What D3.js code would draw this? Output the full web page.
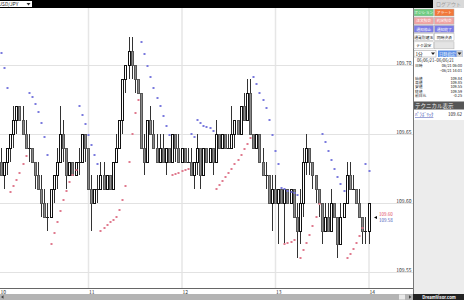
<!DOCTYPE html>
<html lang="ja">
<head>
<meta charset="UTF-8">
<title>USD/JPY 1分足 パラボリック</title>
<script src="https://d3js.org/d3.v7.min.js"></script>
<style>
  html, body { margin: 0; padding: 0; background: #fff; }
  svg { display: block; font-family: "Noto Sans CJK JP", "DejaVu Sans", sans-serif; }
  .tick text { font-size: 5px; fill: #333; font-family: "Noto Sans CJK JP", sans-serif; }
</style>
</head>
<body>
<svg id="chart" width="464" height="300"></svg>
<script>
// minutes after 10:00 for each bar
const minutes = [4,6,8,10,12,14,16,18,20,22,24,26,28,30,32,34,36,38,40,42,44,46,48,50,52,54,56,58,60,62,
  64,66,68,70,72,74,76,78,80,82,84,86,88,90,92,94,96,98,100,102,104,106,108,110,112,114,116,118,120,122,
  124,126,128,130,132,134,136,138,140,142,144,146,148,150,152,154,156,158,160,162,164,166,168,170,172,174,176,178,180,182,
  184,186,188,190,192,194,196,198,200,202,204,206,208,210,212,214,216,218,220,222,224,226,228,230,232,234,236,238,240];

const open = [109.63,109.62,109.63,109.64,109.65,109.66,109.67,109.66,109.65,109.64,
  109.64,109.63,109.62,109.61,109.60,109.59,109.59,109.61,109.62,109.63,
  109.65,109.64,109.62,109.63,109.62,109.63,109.63,109.65,109.64,109.61,
  109.60,109.61,109.61,109.62,109.61,109.62,109.61,109.63,109.64,109.66,
  109.69,109.70,109.71,109.70,109.69,109.68,109.64,109.63,109.66,109.65,
  109.64,109.63,109.64,109.63,109.64,109.63,109.65,109.64,109.63,109.64,
  109.63,109.63,109.62,109.63,109.64,109.62,109.64,109.63,109.64,109.63,
  109.65,109.64,109.65,109.64,109.64,109.65,109.66,109.65,109.67,109.66,
  109.68,109.65,109.64,109.65,109.63,109.62,109.62,109.60,109.61,109.60,
  109.61,109.60,109.61,109.60,109.61,109.59,109.58,109.60,109.63,109.64,
  109.63,109.62,109.61,109.60,109.58,109.59,109.58,109.60,109.59,109.57,
  109.59,109.60,109.62,109.61,109.61,109.60,109.59,109.58,109.58];

const high = [109.64,109.63,109.64,109.65,109.67,109.67,109.67,109.67,109.66,109.65,
  109.64,109.63,109.63,109.62,109.61,109.60,109.61,109.62,109.64,109.67,
  109.66,109.64,109.63,109.63,109.63,109.64,109.65,109.65,109.64,109.62,
  109.61,109.62,109.63,109.63,109.62,109.62,109.63,109.65,109.66,109.69,
  109.70,109.72,109.72,109.70,109.69,109.68,109.65,109.66,109.67,109.66,
  109.65,109.65,109.65,109.64,109.64,109.65,109.65,109.65,109.64,109.64,
  109.64,109.64,109.63,109.65,109.64,109.64,109.64,109.64,109.64,109.66,
  109.65,109.65,109.65,109.65,109.67,109.66,109.66,109.67,109.68,109.69,
  109.69,109.65,109.65,109.65,109.64,109.63,109.62,109.62,109.62,109.61,
  109.61,109.61,109.61,109.61,109.61,109.60,109.61,109.64,109.65,109.64,
  109.63,109.62,109.61,109.60,109.60,109.60,109.61,109.60,109.59,109.60,
  109.60,109.63,109.63,109.62,109.61,109.61,109.59,109.59,109.60];

const low = [109.62,109.61,109.62,109.63,109.64,109.65,109.66,109.65,109.64,109.63,
  109.63,109.61,109.61,109.59,109.59,109.58,109.59,109.60,109.61,109.63,
  109.63,109.61,109.62,109.62,109.62,109.62,109.63,109.63,109.61,109.58,
  109.60,109.60,109.61,109.61,109.61,109.61,109.61,109.63,109.64,109.65,
  109.68,109.69,109.69,109.68,109.68,109.64,109.62,109.63,109.65,109.64,
  109.63,109.63,109.63,109.62,109.63,109.63,109.63,109.63,109.63,109.63,
  109.63,109.62,109.61,109.62,109.61,109.62,109.63,109.63,109.62,109.63,
  109.64,109.64,109.64,109.64,109.64,109.64,109.65,109.65,109.66,109.66,
  109.65,109.64,109.64,109.63,109.62,109.61,109.60,109.58,109.60,109.57,
  109.60,109.57,109.60,109.60,109.59,109.56,109.57,109.59,109.62,109.62,
  109.61,109.60,109.59,109.57,109.58,109.58,109.58,109.59,109.56,109.57,
  109.59,109.60,109.61,109.61,109.60,109.59,109.57,109.57,109.57];

const close = [109.62,109.63,109.64,109.65,109.66,109.67,109.66,109.65,109.64,109.64,
  109.63,109.62,109.61,109.60,109.59,109.59,109.61,109.62,109.63,109.65,
  109.64,109.62,109.63,109.62,109.63,109.63,109.65,109.64,109.61,109.60,
  109.61,109.61,109.62,109.61,109.62,109.61,109.63,109.64,109.66,109.69,
  109.70,109.71,109.70,109.69,109.68,109.64,109.63,109.66,109.65,109.64,
  109.63,109.64,109.63,109.64,109.63,109.65,109.64,109.63,109.64,109.63,
  109.63,109.62,109.63,109.64,109.62,109.64,109.63,109.64,109.63,109.65,
  109.64,109.65,109.64,109.64,109.65,109.66,109.65,109.67,109.66,109.68,
  109.65,109.64,109.65,109.63,109.62,109.62,109.60,109.61,109.60,109.61,
  109.60,109.61,109.60,109.61,109.59,109.58,109.60,109.63,109.64,109.63,
  109.62,109.61,109.60,109.58,109.59,109.58,109.60,109.59,109.57,109.59,
  109.60,109.62,109.61,109.61,109.60,109.59,109.58,109.58,109.60];

// parabolic SAR dots: above price (blue) and below price (red)
const sarAbove = [109.709,109.698,109.683,null,null,null,null,null,null,
  109.680,109.677,109.672,109.666,109.658,109.648,109.635,
  null,null,null,null,null,null,null,null,null,
  109.670,109.664,109.657,109.649,109.642,109.635,109.628,
  null,null,null,null,null,null,null,null,null,null,null,null,null,
  109.717,109.708,109.699,109.691,109.683,109.676,109.670,109.663,109.656,109.649,
  null,null,null,null,null,null,
  109.650,109.648,109.660,109.658,109.656,109.655,109.654,109.652,
  null,null,null,null,null,null,null,null,null,null,null,null,
  109.691,109.686,109.680,109.675,109.669,109.660,109.649,109.638,109.628,109.611,109.610,109.609,109.608,109.607,109.606,
  null,null,null,null,null,null,null,
  109.650,109.644,109.638,109.631,109.625,109.619,109.614,109.609,
  null,null,null,null,null,null,
  109.628,109.623];

const sarBelow = [null,null,null,
  109.608,109.612,109.617,109.622,109.628,109.634,
  null,null,null,null,null,null,null,
  109.570,109.578,109.586,109.594,109.602,109.609,109.615,109.620,109.624,
  null,null,null,null,null,null,null,
  109.580,109.582,109.584,109.586,109.588,109.590,109.595,109.602,109.612,109.630,109.650,109.665,109.675,
  null,null,null,null,null,null,null,null,null,null,
  109.620,109.621,109.622,109.623,109.624,109.625,
  null,null,null,null,null,null,null,null,
  109.610,109.613,109.616,109.619,109.622,109.625,109.628,109.631,109.635,109.639,109.643,109.647,
  null,null,null,null,null,null,null,null,null,null,
  109.570,109.571,109.572,109.573,
  null,
  109.560,109.566,109.571,109.577,109.583,109.590,109.599,
  null,null,null,null,null,null,null,null,
  109.560,109.563,109.567,109.571,109.576,109.582,
  null,null];

const hourTicks = [0, 60, 120, 180, 240];
const hourLabels = ["10", "11", "12", "13", "14"];
const priceTicks = [109.55, 109.60, 109.65, 109.70];
const markerPrices = [109.60, 109.58];

const pairName = "USD/JPY";
const buttonLabels = [["ポジション", "アラート"], ["注文照会", "約定照会"], ["通知停止", "通知終了"], ["通貨別建玉", "同時決済"], ["テク設定", ""]];
const buttonFills = [["#6fcc82", "#f2773a"], ["#f0a3a3", "#f0a3a3"], ["#7b7be6", "#7b7be6"], ["#fff", "#fff"], ["#fff", "#e4e4e4"]];
const buttonInk = ["#fff", "#fff", "#fff", "#222", "#222"];
const periodLabel = "1分";
const rangeLabel = "日時指定";
const dateRange = "06/06/21~06/06/21";
const infoLabels = ["日時", "", "始値", "高値", "安値", "終値", "前日比"];
const infoValues = ["06/21 06:00", "~06/21 14:01", "109.84", "109.85", "109.55", "109.59", "-0.25"];
const techName = "ﾊﾟﾗﾎﾞﾘｯｸ";

const svg = d3.select("#chart");
const plotRight = 413, plotTop = 8, plotBottom = 288;

const x = d3.scaleLinear().domain([0, 240]).range([-5.5, 368.5]);
const y = d3.scaleLinear().domain([109.55, 109.70]).range([272, 65]);

svg.append("rect").attr("width", 464).attr("height", 300).attr("fill", "#fff");

// grid + axes
const gx = svg.append("g").attr("transform", `translate(0,${plotBottom})`)
  .call(d3.axisBottom(x).tickValues(hourTicks).tickSize(-(plotBottom - plotTop)).tickFormat((d, i) => hourLabels[i]));
gx.select(".domain").remove();
gx.selectAll(".tick line").attr("stroke", "#e6e6e6").attr("stroke-width", 1.5);
gx.selectAll(".tick text").attr("y", 5.5).attr("dy", 0).attr("text-anchor", "start")
  .attr("x", d => Math.max(0.5, -x(d)));

const gy = svg.append("g").attr("transform", `translate(${plotRight},0)`)
  .call(d3.axisLeft(y).tickValues(priceTicks).tickSize(plotRight).tickFormat(d3.format(".2f")));
gy.select(".domain").remove();
gy.selectAll(".tick line").attr("stroke", "#e2e2e2");
gy.selectAll(".tick text").attr("x", -1.5).attr("dy", -0.6);

svg.append("line").attr("x1", 0).attr("x2", plotRight).attr("y1", plotBottom + 0.5).attr("y2", plotBottom + 0.5)
  .attr("stroke", "#666");

// candles
const idx = d3.range(minutes.length);
const cx = i => Math.round(x(minutes[i]));
const gc = svg.append("g");
gc.selectAll("line.wick").data(idx).join("line").attr("class", "wick")
  .attr("x1", i => cx(i) + 0.5).attr("x2", i => cx(i) + 0.5)
  .attr("y1", i => Math.round(y(high[i]))).attr("y2", i => Math.round(y(low[i])))
  .attr("stroke", "#333");
gc.selectAll("rect.body").data(idx.filter(i => open[i] !== close[i])).join("rect").attr("class", "body")
  .attr("x", i => cx(i) - 0.5).attr("width", 2)
  .attr("y", i => Math.round(y(Math.max(open[i], close[i]))) + 0.5)
  .attr("height", i => Math.round(y(Math.min(open[i], close[i]))) - Math.round(y(Math.max(open[i], close[i]))))
  .attr("fill", i => close[i] > open[i] ? "#fff" : "#8a8a8a")
  .attr("stroke", i => close[i] > open[i] ? "#111" : "#555");
gc.selectAll("line.doji").data(idx.filter(i => open[i] === close[i])).join("line").attr("class", "doji")
  .attr("x1", i => cx(i) - 1).attr("x2", i => cx(i) + 2)
  .attr("y1", i => Math.round(y(open[i])) + 0.5).attr("y2", i => Math.round(y(open[i])) + 0.5)
  .attr("stroke", "#222");

// parabolic SAR
const gs = svg.append("g");
gs.selectAll("rect.up").data(idx.filter(i => sarAbove[i] != null)).join("rect").attr("class", "up")
  .attr("x", i => cx(i) - 0.5).attr("y", i => Math.round(y(sarAbove[i])) - 1)
  .attr("width", 2).attr("height", 2).attr("fill", "#7a7ade");
gs.selectAll("rect.dn").data(idx.filter(i => sarBelow[i] != null)).join("rect").attr("class", "dn")
  .attr("x", i => cx(i) - 0.5).attr("y", i => Math.round(y(sarBelow[i])) - 1)
  .attr("width", 2).attr("height", 2).attr("fill", "#e07a8e");

// current price markers
const last = minutes.length - 1;
const my = y(close[last]) + 11;
svg.append("path").attr("d", `M374,${my + 3.5}L377,${my + 2}L377,${my + 5}Z`).attr("fill", "#000");
svg.append("text").attr("x", 379).attr("y", my + 1.8).attr("font-size", 4.5).attr("fill", "#e0475a")
  .text(d3.format(".2f")(markerPrices[0]));
svg.append("text").attr("x", 379).attr("y", my + 7.8).attr("font-size", 4.5).attr("fill", "#4a5ab8")
  .text(d3.format(".2f")(markerPrices[1]));

// top bar
svg.append("rect").attr("x", 0).attr("y", 0).attr("width", 464).attr("height", plotTop).attr("fill", "#000");
svg.append("rect").attr("x", 0).attr("y", 1).attr("width", 32).attr("height", 6).attr("fill", "#fff");
svg.append("text").attr("x", -1.5).attr("y", 6.2).attr("font-size", 5).attr("fill", "#222").text(pairName);
svg.append("path").attr("d", "M26.5,3L30.5,3L28.5,5.5Z").attr("fill", "#222");
svg.append("rect").attr("x", 433).attr("y", 0).attr("width", 31).attr("height", plotTop).attr("fill", "#d9d9d9");
svg.append("text").attr("x", 448.5).attr("y", 6.2).attr("font-size", 5).attr("text-anchor", "middle")
  .attr("fill", "#9a9a9a").text("ログアウト");

// right panel
const panel = svg.append("g");
panel.append("rect").attr("x", plotRight).attr("y", plotTop).attr("width", 51).attr("height", 286).attr("fill", "#ececec");
panel.append("rect").attr("x", plotRight + 1).attr("y", plotTop).attr("width", 50).attr("height", 112).attr("fill", "#fff");
panel.append("line").attr("x1", plotRight + 0.5).attr("x2", plotRight + 0.5).attr("y1", plotTop).attr("y2", 294)
  .attr("stroke", "#777");

buttonLabels.forEach((row, r) => row.forEach((label, c) => {
  const bx = 414 + c * 20.5, by = 9 + r * 8.2;
  panel.append("rect").attr("x", bx).attr("y", by).attr("width", 19.5).attr("height", 7)
    .attr("fill", buttonFills[r][c]).attr("stroke", "#b0b0b0").attr("stroke-width", 0.5);
  if (label) {
    panel.append("text").attr("x", bx + 9.75).attr("y", by + 5.2).attr("text-anchor", "middle")
      .attr("font-size", 3.8).attr("fill", buttonInk[r]).text(label);
  }
}));

panel.append("rect").attr("x", 414).attr("y", 50.5).attr("width", 22).attr("height", 6.5)
  .attr("fill", "#fff").attr("stroke", "#999").attr("stroke-width", 0.5);
panel.append("text").attr("x", 415.5).attr("y", 55.6).attr("font-size", 4.6).attr("fill", "#222").text(periodLabel);
panel.append("path").attr("d", "M431,52.5L435,52.5L433,55Z").attr("fill", "#222");
panel.append("rect").attr("x", 438).attr("y", 50.5).attr("width", 24.5).attr("height", 6.5).attr("fill", "#5b8ee6");
panel.append("rect").attr("x", 456.5).attr("y", 50.5).attr("width", 6).attr("height", 6.5).attr("fill", "#d4d4d4");
panel.append("text").attr("x", 439).attr("y", 55.6).attr("font-size", 4.2).attr("fill", "#fff").text(rangeLabel);
panel.append("path").attr("d", "M457.5,52.5L461.5,52.5L459.5,55Z").attr("fill", "#222");

panel.append("text").attr("x", 417).attr("y", 62).attr("font-size", 4.2).attr("fill", "#222").text(dateRange);
const infoY = [67, 72, 80.3, 84.3, 88.3, 92.5, 96.7];
infoLabels.forEach((lab, i) => {
  panel.append("text").attr("x", 415).attr("y", infoY[i]).attr("font-size", 3.8).attr("fill", "#222").text(lab);
  panel.append("text").attr("x", 462).attr("y", infoY[i]).attr("font-size", 3.8).attr("text-anchor", "end")
    .attr("fill", "#222").text(infoValues[i]);
});

panel.append("rect").attr("x", plotRight + 1).attr("y", 101.5).attr("width", 50).attr("height", 8).attr("fill", "#565656");
panel.append("text").attr("x", 415).attr("y", 107.8).attr("font-size", 5.5).attr("fill", "#eee").text("テクニカル表示");
panel.append("text").attr("x", 415).attr("y", 116).attr("font-size", 4.6).attr("fill", "#2a3aa8")
  .attr("text-decoration", "underline").text(techName);
panel.append("text").attr("x", 462).attr("y", 116).attr("font-size", 4.6).attr("text-anchor", "end").attr("fill", "#222")
  .text(d3.format(".2f")(sarAbove[last]));

// scrollbar + logo
svg.append("rect").attr("x", 0).attr("y", 294).attr("width", plotRight).attr("height", 6).attr("fill", "#b4b4b4");
svg.append("path").attr("d", "M1,297L3.5,295.3L3.5,298.7Z").attr("fill", "#444");
svg.append("rect").attr("x", 399).attr("y", 294.5).attr("width", 6).attr("height", 5).attr("fill", "#e8e8e8");
svg.append("path").attr("d", "M411.5,297L409,295.3L409,298.7Z").attr("fill", "#444");
svg.append("rect").attr("x", plotRight).attr("y", 294).attr("width", 51).attr("height", 6).attr("fill", "#222");
svg.append("text").attr("x", 439).attr("y", 298.8).attr("font-size", 4.2).attr("text-anchor", "middle")
  .attr("font-weight", "bold").attr("fill", "#fff").text("DreamVisor.com");
</script>
</body>
</html>
